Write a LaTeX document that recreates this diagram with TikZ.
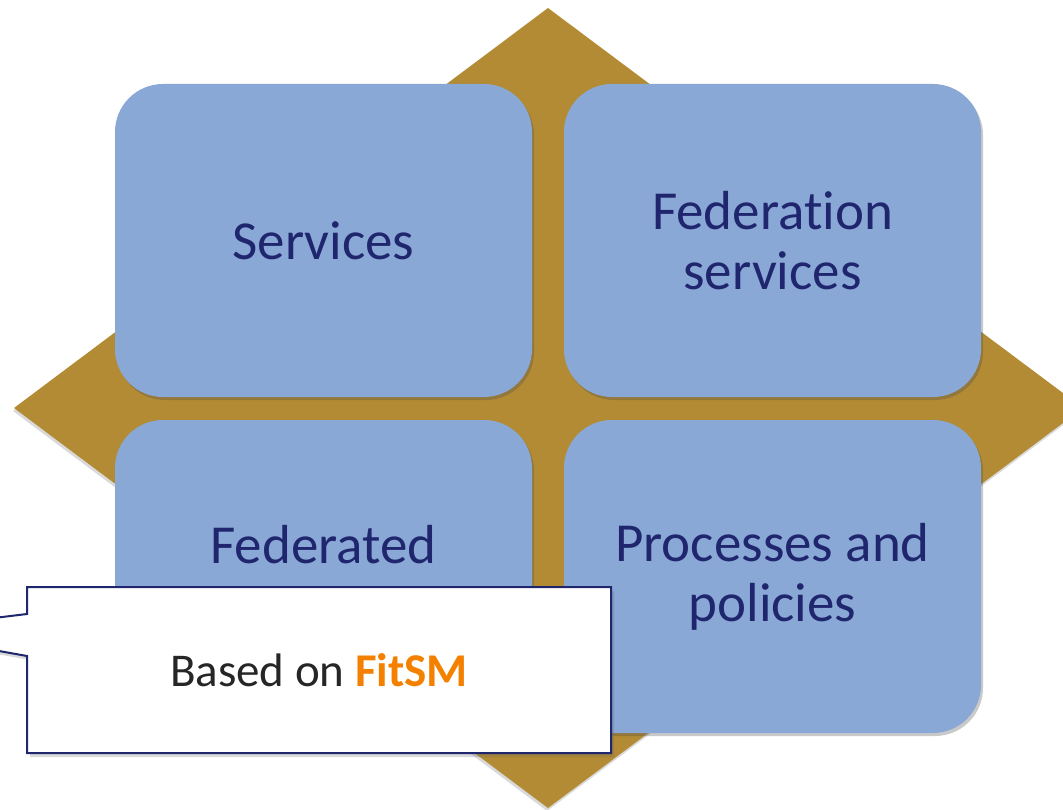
\documentclass[tikz,border=0pt]{standalone}
\usepackage{fontspec}
\setmainfont{Carlito}[Ligatures=NoCommon]
\usetikzlibrary{shadows}
\definecolor{gold}{RGB}{179,139,52}
\definecolor{boxblue}{RGB}{138,168,214}
\definecolor{navy}{RGB}{31,38,110}
\definecolor{darktext}{RGB}{38,38,38}
\definecolor{fitorange}{RGB}{244,128,0}
\tikzset{
  quad/.style={draw=none, fill=boxblue, rounded corners=48pt, minimum width=417pt, minimum height=313pt, inner sep=0pt,
    drop shadow={shadow xshift=2pt, shadow yshift=-3pt, opacity=0.3, fill=black!70},
    font=\fontsize{55}{60}\selectfont, text=navy, align=center},
  quadtext/.style={font=\fontsize{55}{60}\selectfont, text=navy, align=center, inner sep=0pt},
  callout/.style={fill=white, draw=navy, line width=2pt, line join=miter,
    drop shadow={shadow xshift=3pt, shadow yshift=-4pt, opacity=0.25, fill=black!60}},
}
\begin{document}
\begin{tikzpicture}[x=1pt, y=-1pt]
\useasboundingbox (0,0) rectangle (1063,810);
\clip (0,0) rectangle (1063,810);
% diamond
\fill[gold, drop shadow={shadow xshift=-1pt, shadow yshift=-3pt, opacity=0.25, fill=black!60}]
  (548,8) -- (1083,408) -- (548,808) -- (14,408) -- cycle;
% quadrants
\node[quad] (tl) at (323.5,240.5) {Services};
\node[quad] (tr) at (772.5,240.5) {Federation\\services};
\node[quad] (bl) at (323.5,576.5) {};
\node[quad] (br) at (772.5,576.5) {Processes and\\policies};
\node[quadtext] (bltext) at (323.5,545) {Federated};
% callout
\path[callout] (27,587) -- (611,587) -- (611,753) -- (27,753) -- (27,656) -- (-113,631) -- (27,614) -- cycle;
\node[font=\fontsize{47}{56}\selectfont, text=darktext, inner sep=0pt] (note) at (319,670)
  {Based on \textcolor{fitorange}{\bfseries FitSM}};
\end{tikzpicture}
\end{document}
